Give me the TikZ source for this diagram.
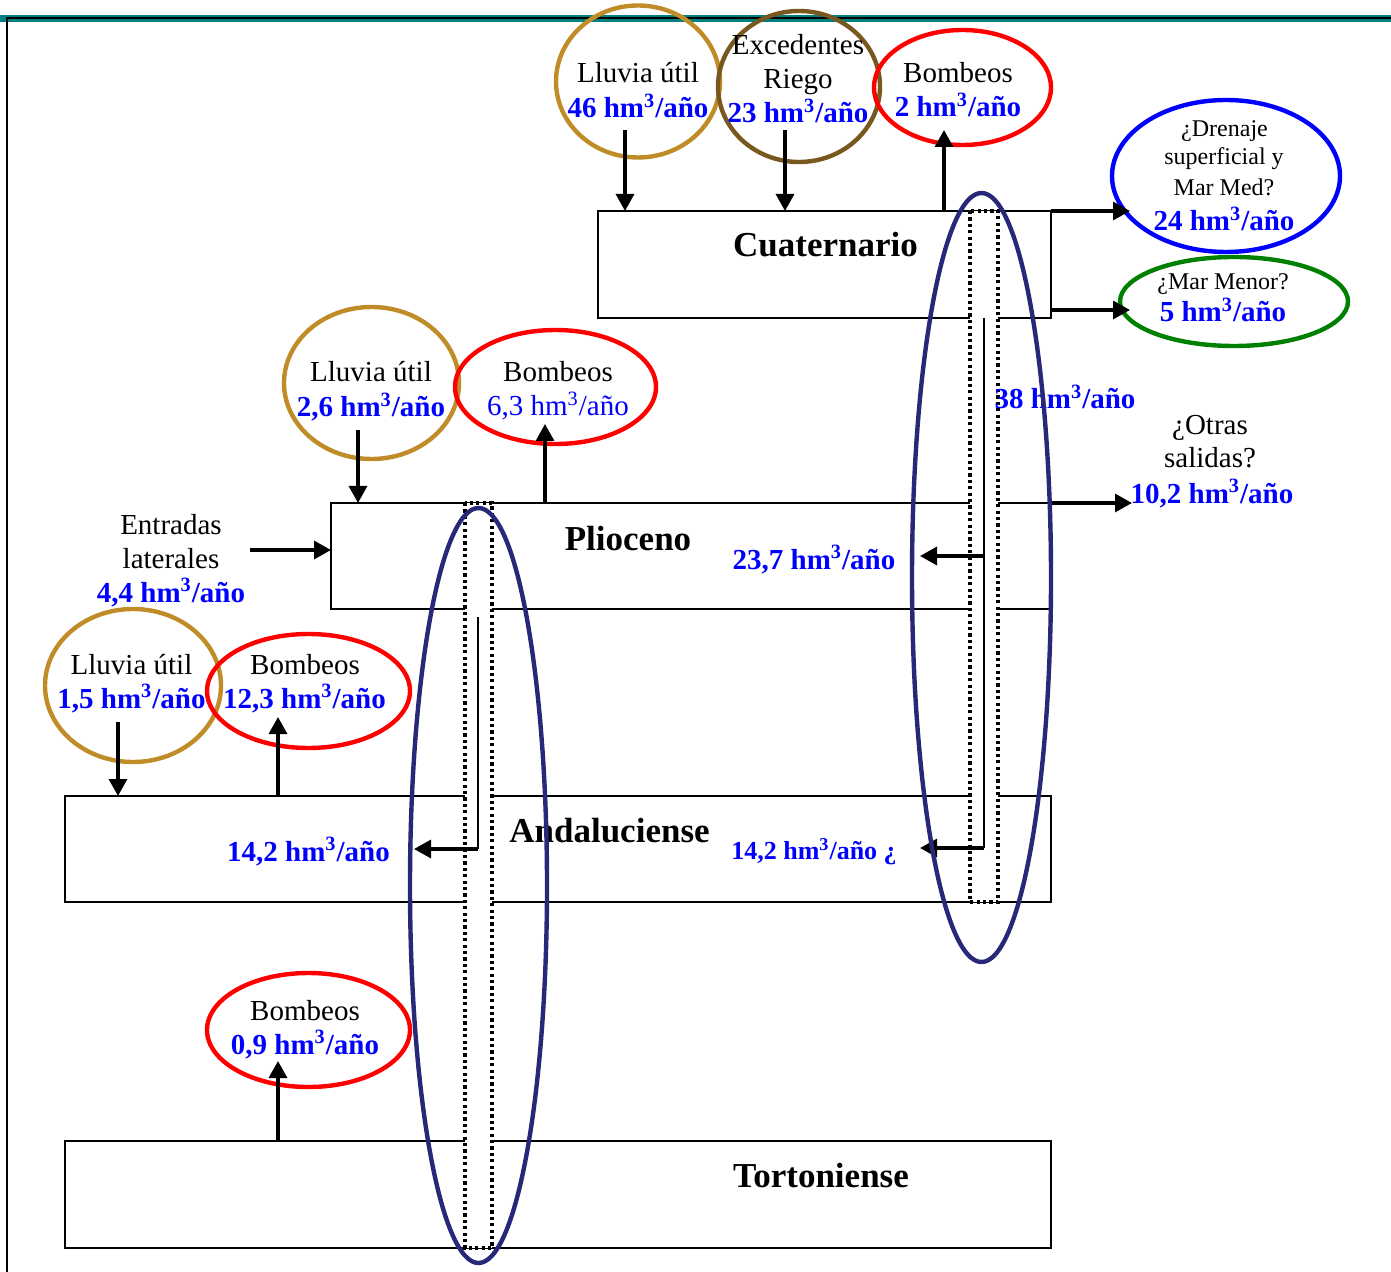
\documentclass[tikz,border=0pt]{standalone}
\usepackage{fontspec}
\setmainfont{Liberation Serif}
\usetikzlibrary{arrows.meta,shapes.geometric}
\definecolor{teal0}{RGB}{0,128,128}
\definecolor{goldc}{RGB}{192,140,40}
\definecolor{brownc}{RGB}{120,88,30}
\definecolor{redc}{RGB}{255,0,0}
\definecolor{bluec}{RGB}{0,0,255}
\definecolor{greenc}{RGB}{0,128,0}
\definecolor{navy}{RGB}{40,40,120}
\begin{document}
\begin{tikzpicture}[x=0.5pt,y=-0.5pt,
  lbl/.style={font=\fontsize{14.5}{17}\selectfont, inner sep=0pt, anchor=base},
  sml/.style={font=\fontsize{12}{14}\selectfont, inner sep=0pt, anchor=base},
  val/.style={font=\fontsize{14.5}{17}\selectfont\bfseries, text=bluec, inner sep=0pt, anchor=base},
  valr/.style={font=\fontsize{14.5}{17}\selectfont, text=bluec, inner sep=0pt, anchor=base},
  vals/.style={font=\fontsize{13}{15}\selectfont\bfseries, text=bluec, inner sep=0pt, anchor=base},
  hdr/.style={font=\fontsize{17.5}{20}\selectfont\bfseries, inner sep=0pt, anchor=base},
  layer/.style={draw=black, line width=1pt, fill=white},
  column/.style={draw=black, line width=1.6pt, fill=white, dash pattern=on 1.6pt off 1.6pt},
  oval/.style={ellipse, draw, line width=2.2pt, inner sep=0pt},
  bigoval/.style={ellipse, draw=navy, line width=2.2pt, inner sep=0pt},
  arr/.style={-{Triangle[length=8.5pt,width=9pt]}, line width=1.6pt},
  thinline/.style={line width=1pt}]
\useasboundingbox (0,0) rectangle (1391,1272);
% frame
\fill[teal0] (0,15) rectangle (1391,22);
\draw[line width=1pt] (6.5,1272) -- (6.5,18.5) -- (1391,18.5);

% layers
\path[layer] (598,211) rectangle (1051,318);
\path[layer] (331,503) rectangle (1051,609);
\path[layer] (65,796) rectangle (1051,902);
\path[layer] (65,1141) rectangle (1051,1248);

% columns
\path[column] (465,503) rectangle (492,1248);
\path[column] (970,211) rectangle (998,902);

% layer names
\node[hdr] (cuat) at (825.5,257) {Cuaternario};
\node[hdr] (plio) at (628,550) {Plioceno};
\node[hdr] (anda) at (609.5,842) {Andaluciense};
\node[hdr] (tort) at (821,1187) {Tortoniense};

% top ellipses
\node[oval, draw=goldc, minimum width=82pt, minimum height=76pt] (lluv1) at (638,81.5) {};
\node[oval, draw=brownc, minimum width=81pt, minimum height=75.5pt] (exc) at (799,86.5) {};
\node[oval, draw=redc, minimum width=88.5pt, minimum height=57.5pt] (bomb1) at (962.5,87.5) {};
\node[lbl] (t1a) at (638,83) {Lluvia útil};
\node[val] (t1b) at (638,118) {46 hm\textsuperscript{3}/año};
\node[lbl] (t2a) at (798,55) {Excedentes};
\node[lbl] (t2b) at (798,89) {Riego};
\node[val] (t2c) at (798,123) {23 hm\textsuperscript{3}/año};
\node[lbl] (t3a) at (958,83) {Bombeos};
\node[val] (t3b) at (958,117) {2 hm\textsuperscript{3}/año};
\coordinate (a1s) at (625,130); \coordinate (a1e) at (625,211);
\coordinate (a2s) at (785,130); \coordinate (a2e) at (785,211);
\coordinate (a3s) at (944,211); \coordinate (a3e) at (944,130);
\draw[arr] (a1s) -- (a1e);
\draw[arr] (a2s) -- (a2e);
\draw[arr] (a3s) -- (a3e);

% right ellipses
\node[oval, draw=bluec, minimum width=114pt, minimum height=76pt] (dren) at (1226,176) {};
\node[oval, draw=greenc, minimum width=114pt, minimum height=44.5pt] (mm) at (1234,301.5) {};
\node[sml] (d1) at (1224.5,137) {¿Drenaje};
\node[sml] (d2) at (1224,165) {superficial y};
\node[sml] (d3) at (1224,196) {Mar Med?};
\node[val] (d4) at (1224,231) {24 hm\textsuperscript{3}/año};
\node[sml] (m1) at (1223,290) {¿Mar Menor?};
\node[val] (m2) at (1223,322) {5 hm\textsuperscript{3}/año};
\coordinate (r1s) at (1051,211); \coordinate (r1e) at (1130,211);
\coordinate (r2s) at (1051,310); \coordinate (r2e) at (1130,310);
\draw[arr] (r1s) -- (r1e);
\draw[arr] (r2s) -- (r2e);

% otras salidas
\node[lbl] (o1) at (1210,435) {¿Otras};
\node[lbl] (o2) at (1210,468) {salidas?};
\node[val] (o3) at (1212,503) {10,2 hm\textsuperscript{3}/año};
\coordinate (o4s) at (1051,503); \coordinate (o4e) at (1132,503);
\draw[arr] (o4s) -- (o4e);
\node[val] (v38) at (1065,409) {38 hm\textsuperscript{3}/año};

% Plioceno group
\node[oval, draw=goldc, minimum width=87.5pt, minimum height=76pt] (lluv2) at (371.5,383) {};
\node[oval, draw=redc, minimum width=100.5pt, minimum height=57pt] (bomb2) at (555.5,387) {};
\node[lbl] (p1a) at (371,382) {Lluvia útil};
\node[val] (p1b) at (371,417) {2,6 hm\textsuperscript{3}/año};
\node[lbl] (p2a) at (558,382) {Bombeos};
\node[valr] (p2b) at (558,416) {6,3 hm\textsuperscript{3}/año};
\coordinate (p3s) at (358,430); \coordinate (p3e) at (358,503);
\coordinate (p4s) at (545,503); \coordinate (p4e) at (545,424);
\draw[arr] (p3s) -- (p3e);
\draw[arr] (p4s) -- (p4e);
\node[lbl] (e1) at (171,535) {Entradas};
\node[lbl] (e2) at (171,568) {laterales};
\node[val] (e3) at (171,602) {4,4 hm\textsuperscript{3}/año};
\coordinate (e4s) at (250,550); \coordinate (e4e) at (331,550);
\draw[arr] (e4s) -- (e4e);
\node[val] (v237) at (814,569) {23,7 hm\textsuperscript{3}/año};

% Andaluciense group
\node[oval, draw=goldc, minimum width=88pt, minimum height=76.5pt] (lluv3) at (133,685.5) {};
\node[oval, draw=redc, minimum width=101.5pt, minimum height=57pt] (bomb3) at (308.5,691) {};
\node[lbl] (n1a) at (131.5,674) {Lluvia útil};
\node[val] (n1b) at (131.5,708) {1,5 hm\textsuperscript{3}/año};
\node[lbl] (n2a) at (305,674) {Bombeos};
\node[val] (n2b) at (304.5,708) {12,3 hm\textsuperscript{3}/año};
\coordinate (n3s) at (118,722); \coordinate (n3e) at (118,796);
\coordinate (n4s) at (278,796); \coordinate (n4e) at (278,717);
\draw[arr] (n3s) -- (n3e);
\draw[arr] (n4s) -- (n4e);
\node[val] (v142a) at (308.5,861) {14,2 hm\textsuperscript{3}/año};
\node[vals] (v142b) at (814,859) {14,2 hm\textsuperscript{3}/año ¿};

% Tortoniense group
\node[oval, draw=redc, minimum width=101.5pt, minimum height=57pt] (bomb4) at (308.5,1030) {};
\node[lbl] (q1) at (305,1020) {Bombeos};
\node[val] (q2) at (305,1054) {0,9 hm\textsuperscript{3}/año};
\coordinate (q3s) at (278,1141); \coordinate (q3e) at (278,1061);
\draw[arr] (q3s) -- (q3e);

% column flows
\coordinate (lc1) at (478,617); \coordinate (lc2) at (478,849); \coordinate (lc3) at (414,849);
\draw[thinline] (lc1) -- (lc2);
\draw[arr] (lc2) -- (lc3);
\coordinate (rc1) at (984,318); \coordinate (rc2) at (984,848); \coordinate (rc3) at (920,848);
\coordinate (rb1) at (984,556); \coordinate (rb2) at (920,556);
\draw[thinline] (rc1) -- (rc2);
\draw[arr] (rc2) -- (rc3);
\draw[arr] (rb1) -- (rb2);

% big connection ellipses
\node[bigoval, minimum width=68.5pt, minimum height=377.5pt] (bigL) at (478.5,885.5) {};
\node[bigoval, minimum width=69.5pt, minimum height=384.5pt] (bigR) at (981.5,577.5) {};
\end{tikzpicture}
\end{document}
